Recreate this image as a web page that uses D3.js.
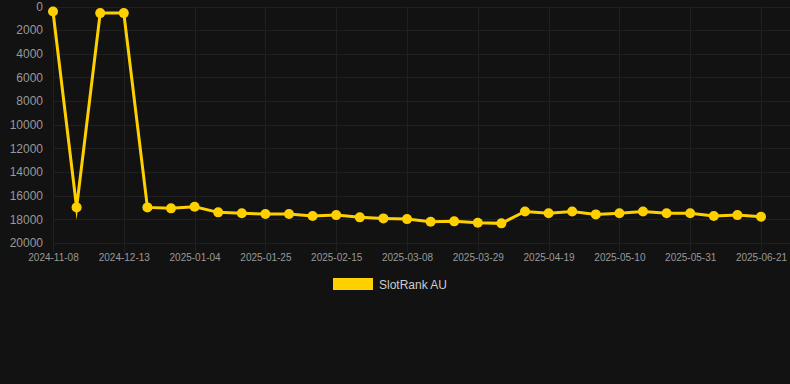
<!DOCTYPE html>
<html>
<head>
<meta charset="utf-8">
<script src="https://cdn.jsdelivr.net/npm/d3@7"></script>
<style>
  html, body { margin: 0; padding: 0; background: #121212; }
  svg { display: block; }
</style>
</head>
<body>
<svg id="chart" width="790" height="384"></svg>
<script>
const dates = [
  '2024-11-08', '2024-11-15', '2024-11-29', '2024-12-13', '2024-12-21', '2024-12-28',
  '2025-01-04', '2025-01-11', '2025-01-18', '2025-01-25', '2025-02-01', '2025-02-08',
  '2025-02-15', '2025-02-22', '2025-03-01', '2025-03-08', '2025-03-15', '2025-03-22',
  '2025-03-29', '2025-04-05', '2025-04-12', '2025-04-19', '2025-04-26', '2025-05-03',
  '2025-05-10', '2025-05-17', '2025-05-24', '2025-05-31', '2025-06-07', '2025-06-14',
  '2025-06-21'
];
const ranks = [
  420, 16990, 560, 560, 16990, 17070,
  16940, 17410, 17490, 17550, 17550, 17720,
  17640, 17830, 17920, 17980, 18200, 18170,
  18290, 18340, 17330, 17490, 17330, 17580,
  17490, 17330, 17490, 17490, 17720, 17640,
  17780
];
const yTicks = [0, 2000, 4000, 6000, 8000, 10000, 12000, 14000, 16000, 18000, 20000];
const seriesName = 'SlotRank AU';
const lineColor = '#FFD000';

const width = 790;
const plotLeft = 53, plotRight = 761, plotTop = 6.5, plotBottom = 243;
const svg = d3.select('#chart');

const data = dates.map((d, i) => ({ date: d, rank: ranks[i] }));
const xScale = d3.scalePoint().domain(dates).range([plotLeft, plotRight]);
const yScale = d3.scaleLinear().domain([0, 20000]).range([plotTop, plotBottom]);
const xLabels = dates.filter((d, i) => i % 3 === 0);

// grid
svg.append('g')
    .selectAll('line')
    .data(yTicks)
    .join('line')
    .attr('x1', plotLeft).attr('x2', width)
    .attr('y1', d => Math.round(yScale(d)) + 0.5)
    .attr('y2', d => Math.round(yScale(d)) + 0.5)
    .attr('stroke', '#202020');

svg.append('g')
    .selectAll('line')
    .data(xLabels)
    .join('line')
    .attr('x1', d => Math.round(xScale(d)) + 0.5)
    .attr('x2', d => Math.round(xScale(d)) + 0.5)
    .attr('y1', plotTop).attr('y2', plotBottom + 9)
    .attr('stroke', '#202020');

// axes
const yAxis = d3.axisLeft(yScale).tickValues(yTicks).tickFormat(d3.format('d')).tickSize(0).tickPadding(10);
svg.append('g')
    .attr('transform', `translate(${plotLeft},0)`)
    .call(yAxis)
    .call(g => g.select('.domain').remove())
    .selectAll('text')
    .attr('fill', '#999999')
    .attr('font-family', 'Liberation Sans, Arial, sans-serif')
    .attr('font-size', 12);

const xAxis = d3.axisBottom(xScale).tickValues(xLabels).tickSize(0).tickPadding(11);
svg.append('g')
    .attr('transform', `translate(0,${plotBottom})`)
    .call(xAxis)
    .call(g => g.select('.domain').remove())
    .selectAll('text')
    .attr('fill', '#999999')
    .attr('font-family', 'Liberation Sans, Arial, sans-serif')
    .attr('font-size', 10);

// line
const line = d3.line().x(d => xScale(d.date)).y(d => yScale(d.rank));
svg.append('path')
    .datum(data)
    .attr('d', line)
    .attr('fill', 'none')
    .attr('stroke', lineColor)
    .attr('stroke-width', 3)
    .attr('stroke-linejoin', 'miter')
    .attr('stroke-miterlimit', 10);

svg.append('g')
    .selectAll('circle')
    .data(data)
    .join('circle')
    .attr('cx', d => xScale(d.date))
    .attr('cy', d => yScale(d.rank))
    .attr('r', 5)
    .attr('fill', lineColor);

// legend
const legend = svg.append('g').attr('transform', 'translate(333,278)');
legend.append('rect')
    .attr('width', 40).attr('height', 12)
    .attr('fill', lineColor);
legend.append('text')
    .attr('x', 46).attr('y', 10.5)
    .attr('fill', '#cccccc')
    .attr('font-family', 'Liberation Sans, Arial, sans-serif')
    .attr('font-size', 12)
    .text(seriesName);
</script>
</body>
</html>
